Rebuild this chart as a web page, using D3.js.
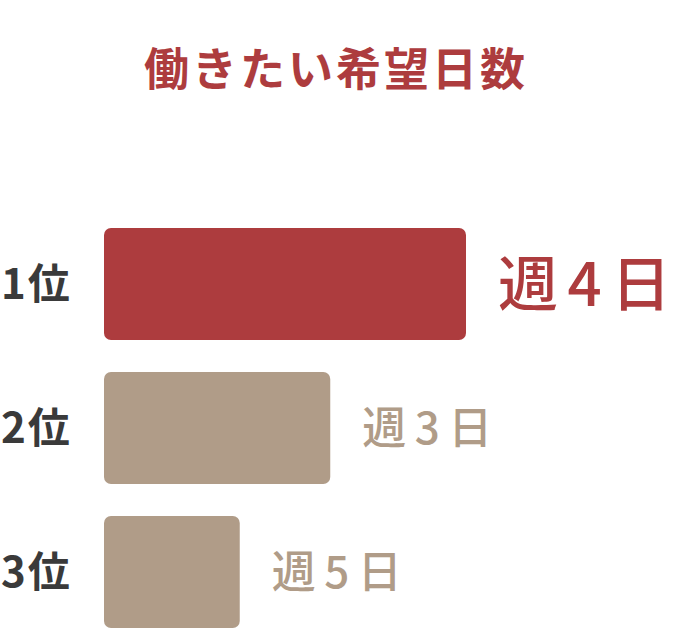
<!DOCTYPE html>
<html>
<head>
<meta charset="utf-8">
<script src="https://cdn.jsdelivr.net/npm/d3@7"></script>
<style>
  html, body { margin: 0; padding: 0; background: #fff; }
  svg { display: block; }
  text { font-family: "Noto Sans CJK JP", "Noto Sans", sans-serif; }
</style>
</head>
<body>
<svg id="chart" width="674" height="628"></svg>
<script>
// Data
const title = "働きたい希望日数";
const ranks = ["1位", "2位", "3位"];
const answers = ["週4日", "週3日", "週5日"];
const values = [40, 25, 15];

const svg = d3.select("#chart");
const red = "#ad3c3e", tan = "#b09c88", dark = "#3a3a3a";

const data = ranks.map((r, i) => ({ rank: r, answer: answers[i], value: values[i], top: i === 0 }));

const x = d3.scaleLinear().domain([0, 40]).range([104, 466]);
const y = d3.scaleBand().domain(ranks).range([228, 628]).paddingInner(32 / 144).paddingOuter(0);

svg.append("text")
  .attr("x", 336).attr("y", 86)
  .attr("text-anchor", "middle")
  .attr("fill", red)
  .attr("font-size", 45)
  .attr("font-weight", 700)
  .attr("letter-spacing", 3)
  .text(title);

const g = svg.append("g");

g.selectAll("rect.bar").data(data).join("rect")
  .attr("class", "bar")
  .attr("x", x(0))
  .attr("y", d => y(d.rank))
  .attr("width", d => x(d.value) - x(0))
  .attr("height", y.bandwidth())
  .attr("rx", 7).attr("ry", 7)
  .attr("fill", d => d.top ? red : tan);

g.selectAll("text.rank").data(data).join("text")
  .attr("class", "rank")
  .attr("x", 1)
  .attr("y", d => y(d.rank) + y.bandwidth() / 2)
  .attr("dy", "0.36em")
  .attr("fill", dark)
  .attr("font-size", 42)
  .attr("font-weight", 700)
  .attr("letter-spacing", 2)
  .text(d => d.rank);

g.selectAll("text.val").data(data).join("text")
  .attr("class", "val")
  .attr("x", d => x(d.value) + 32)
  .attr("y", d => y(d.rank) + y.bandwidth() / 2)
  .attr("dy", "0.36em")
  .attr("fill", d => d.top ? red : tan)
  .attr("font-size", d => d.top ? 60 : 44)
  .attr("textLength", d => d.top ? 173 : 130)
  .attr("lengthAdjust", "spacing")
  .attr("font-weight", 500)
  .text(d => d.answer);
</script>
</body>
</html>
